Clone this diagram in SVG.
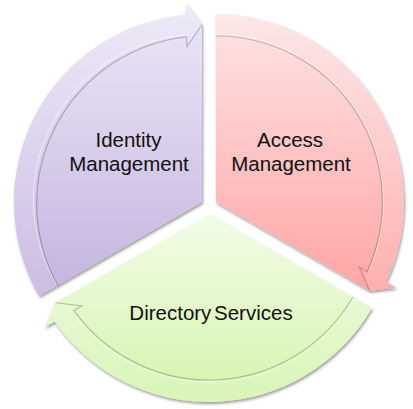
<svg xmlns="http://www.w3.org/2000/svg" width="413" height="409" viewBox="0 0 413 409">
  <defs>
    <linearGradient id="gP" gradientUnits="userSpaceOnUse" x1="0" y1="10" x2="0" y2="300">
      <stop offset="0" stop-color="#ebe6f6"/>
      <stop offset="1" stop-color="#c4b3df"/>
    </linearGradient>
    <linearGradient id="gK" gradientUnits="userSpaceOnUse" x1="0" y1="10" x2="0" y2="300">
      <stop offset="0" stop-color="#fde5e5"/>
      <stop offset="1" stop-color="#ffa3a3"/>
    </linearGradient>
    <linearGradient id="gG" gradientUnits="userSpaceOnUse" x1="0" y1="214" x2="0" y2="402">
      <stop offset="0" stop-color="#f2fce8"/>
      <stop offset="1" stop-color="#d4f4ac"/>
    </linearGradient>
    <filter id="sh" x="-10%" y="-10%" width="120%" height="120%">
      <feGaussianBlur in="SourceAlpha" stdDeviation="1.6"/>
      <feOffset dx="1" dy="2" result="b"/>
      <feComponentTransfer><feFuncA type="linear" slope="0.4"/></feComponentTransfer>
      <feMerge><feMergeNode/><feMergeNode in="SourceGraphic"/></feMerge>
    </filter>
    <filter id="soft" x="-10%" y="-10%" width="120%" height="120%">
      <feGaussianBlur stdDeviation="0.6"/>
    </filter>
  </defs>
  <style>
    .band { fill: #ffffff; fill-opacity: 0.12; }
    .edge { fill: none; stroke: #000; stroke-opacity: 0.22; stroke-width: 1.2; }
    .hl { fill: none; stroke: #fff; stroke-opacity: 0.5; stroke-width: 1; }
    .lbl { font-family: "Liberation Sans", Arial, sans-serif; font-size: 20.5px; fill: #111; text-anchor: middle; }
  </style>
  <g id="identity">
    <path d="M202,202 L39.19,296 A188,188 0 0 1 186,14.68 L186,3 L202,24.5 Z" fill="url(#gP)" filter="url(#sh)"/>
    <path class="band" d="M39.19,296 A188,188 0 0 1 186,14.68 L186,3 L202,24.5 L186,46 L186,35.77 A167,167 0 0 0 57.38,285.5 Z"/>
    <path class="hl" d="M56.5,284.5 A166,166 0 0 1 185,34.8"/>
    <path class="edge" filter="url(#soft)" d="M58.2,286 A168,168 0 0 1 186.5,36.8 L187,46.5 L202,24.5"/>
    <text class="lbl" x="128.5" y="147">Identity</text>
    <text class="lbl" x="129" y="171">Management</text>
  </g>
  <g id="access">
    <path d="M216,202 L216,14 A188,188 0 0 1 386.22,281.8 L396.34,287.64 L369.72,290.75 Z" fill="url(#gK)" filter="url(#sh)"/>
    <path class="band" d="M216,14 A188,188 0 0 1 386.22,281.8 L396.34,287.64 L369.72,290.75 L359.1,266.14 L367.96,271.26 A167,167 0 0 0 216,35 Z"/>
    <path class="hl" d="M216,34 A168,168 0 0 1 368.8,270.5"/>
    <path class="edge" filter="url(#soft)" d="M216,36 A166,166 0 0 1 367,271.8 L359.5,267 L369.72,290.75"/>
    <text class="lbl" x="290" y="147">Access</text>
    <text class="lbl" x="291" y="171">Management</text>
  </g>
  <g id="directory">
    <path d="M209,214 L371.81,308 A188,188 0 0 1 54.78,321.52 L44.66,327.36 L55.28,302.75 Z" fill="url(#gG)" filter="url(#sh)"/>
    <path class="band" d="M371.81,308 A188,188 0 0 1 54.78,321.52 L44.66,327.36 L55.28,302.75 L81.9,305.86 L73.04,310.98 A167,167 0 0 0 353.62,297.5 Z"/>
    <path class="hl" d="M354.5,298 A168,168 0 0 1 72.2,311.5"/>
    <path class="edge" filter="url(#soft)" d="M352.8,297 A166,166 0 0 1 73.9,310.4 L81.9,305.86 L55.28,302.75"/>
    <text class="lbl" x="211" y="320" word-spacing="-3">Directory Services</text>
  </g>
  <g id="connectors"/>
</svg>
